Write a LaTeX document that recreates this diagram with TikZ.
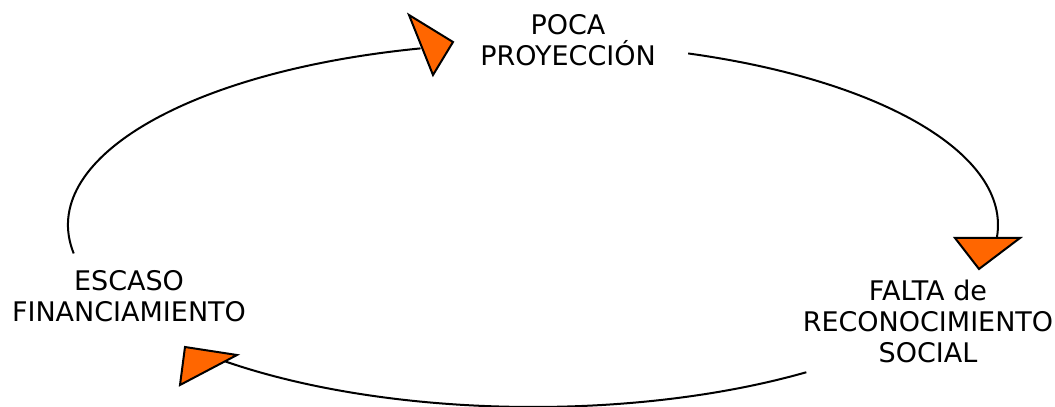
\documentclass[tikz,border=0pt]{standalone}
\usepackage{fontspec}
\setmainfont{DejaVu Sans}
\usetikzlibrary{calc}
\definecolor{tiporange}{HTML}{FF6600}

\begin{document}
\begin{tikzpicture}[x=0.5pt, y=0.5pt,
    every node/.style={align=center, inner sep=0pt, font=\fontsize{13.5pt}{15.5pt}\selectfont},
    link/.style={line width=1pt},
    tip/.style={draw, fill=tiporange, line width=1pt, line join=miter}]
    \useasboundingbox (0,0) rectangle (1055,407);
    \node (poca) at (568,367) {POCA\\ PROYECCIÓN};
    \node (falta) at (928,86) {FALTA de\\ RECONOCIMIENTO\\ SOCIAL};
    \node (escaso) at (129,111) {ESCASO\\ FINANCIAMIENTO};
    \coordinate (c) at (533,182);
    \coordinate (escasoOut) at ($(c)+(189:465 and 182)$);
    \coordinate (pocaOut) at ($(c)+(70.5:465 and 182)$);
    \coordinate (faltaOut) at ($(c)+(-54:465 and 182)$);
    \draw[link] (escasoOut) arc[start angle=189, end angle=104, x radius=465, y radius=182] coordinate (pocaIn);
    \draw[link] (pocaOut) arc[start angle=70.5, end angle=-3.8, x radius=465, y radius=182] coordinate (faltaIn);
    \draw[link] (faltaOut) arc[start angle=-54, end angle=-132, x radius=465, y radius=182] coordinate (escasoIn);
    \draw[tip] (409,392) -- (453,365) -- (433,332) -- cycle;
    \draw[tip] (955,169) -- (1020,169) -- (979,138) -- cycle;
    \draw[tip] (185,60) -- (237,52) -- (180,22) -- cycle;
\end{tikzpicture}
\end{document}
